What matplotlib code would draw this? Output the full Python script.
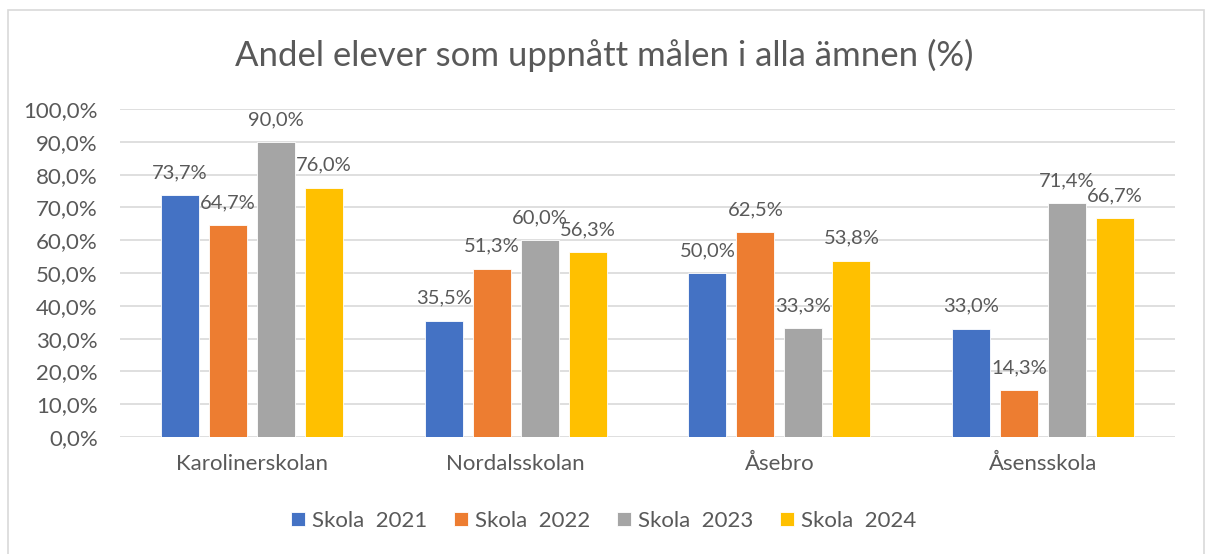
import numpy as np
import matplotlib
matplotlib.use("Agg")
import matplotlib.pyplot as plt
from matplotlib.patches import Rectangle

plt.rcParams['font.family'] = ['Lato', 'DejaVu Sans']

schools = ["Karolinerskolan", "Nordalsskolan", "Åsebro", "Åsensskola"]
series = ["Skola  2021", "Skola  2022", "Skola  2023", "Skola  2024"]
s2021 = [73.7, 35.5, 50.0, 33.0]
s2022 = [64.7, 51.3, 62.5, 14.3]
s2023 = [90.0, 60.0, 33.3, 71.4]
s2024 = [76.0, 56.3, 53.8, 66.7]
colors = ["#4472c4", "#ed7d31", "#a5a5a5", "#ffc000"]

txt = "#595959"

fig = plt.figure(figsize=(12.08, 5.54), dpi=100)
fig.patches.append(Rectangle((8/1208, -0.01), (1204-8)/1208, (554-10)/554 + 0.01,
                             transform=fig.transFigure, fill=False,
                             edgecolor="#d9d9d9", linewidth=1.2))

ax = fig.add_axes([120/1208, (554-437)/554, (1175-120)/1208, (437-109)/554])

x = np.arange(len(schools))
w = 38/263.75
step = 48/263.75
for i, vals in enumerate([s2021, s2022, s2023, s2024]):
    pos = x + (i - 1.5) * step
    ax.bar(pos, vals, width=w, color=colors[i], label=series[i], zorder=3,
           edgecolor="white", linewidth=0.6)
    for px, v in zip(pos, vals):
        ax.annotate(f"{v:.1f}%".replace(".", ","), (px, v), xytext=(0, 10),
                    textcoords="offset points", ha="center", va="bottom",
                    fontsize=14.5, color=txt)

ax.set_xlim(-0.5, len(schools) - 0.5)
ax.set_ylim(0, 100)
yt = np.arange(0, 101, 10)
ax.set_yticks(yt)
ax.set_yticklabels([f"{v:.1f}%".replace(".", ",") for v in yt])
ax.set_xticks(x)
ax.set_xticklabels(schools)
ax.tick_params(axis="both", length=0, labelsize=16, colors=txt)
ax.tick_params(axis="y", pad=16)
ax.tick_params(axis="x", pad=12)
ax.yaxis.grid(True, color="#d9d9d9", linewidth=1.2, zorder=0)
ax.set_axisbelow(True)
for s in ax.spines.values():
    s.set_visible(False)

fig.text(0.5, (554-55)/554, "Andel elever som uppnått målen i alla ämnen (%)",
         ha="center", va="center", fontsize=25, color=txt)

fig.legend(loc="center", bbox_to_anchor=(0.5, (554-521)/554), ncol=4,
           frameon=False, fontsize=16, labelcolor=txt, handlelength=0.6,
           handleheight=0.6, handletextpad=0.35, columnspacing=1.2)

fig.savefig("out.png", dpi=100, facecolor="white")
